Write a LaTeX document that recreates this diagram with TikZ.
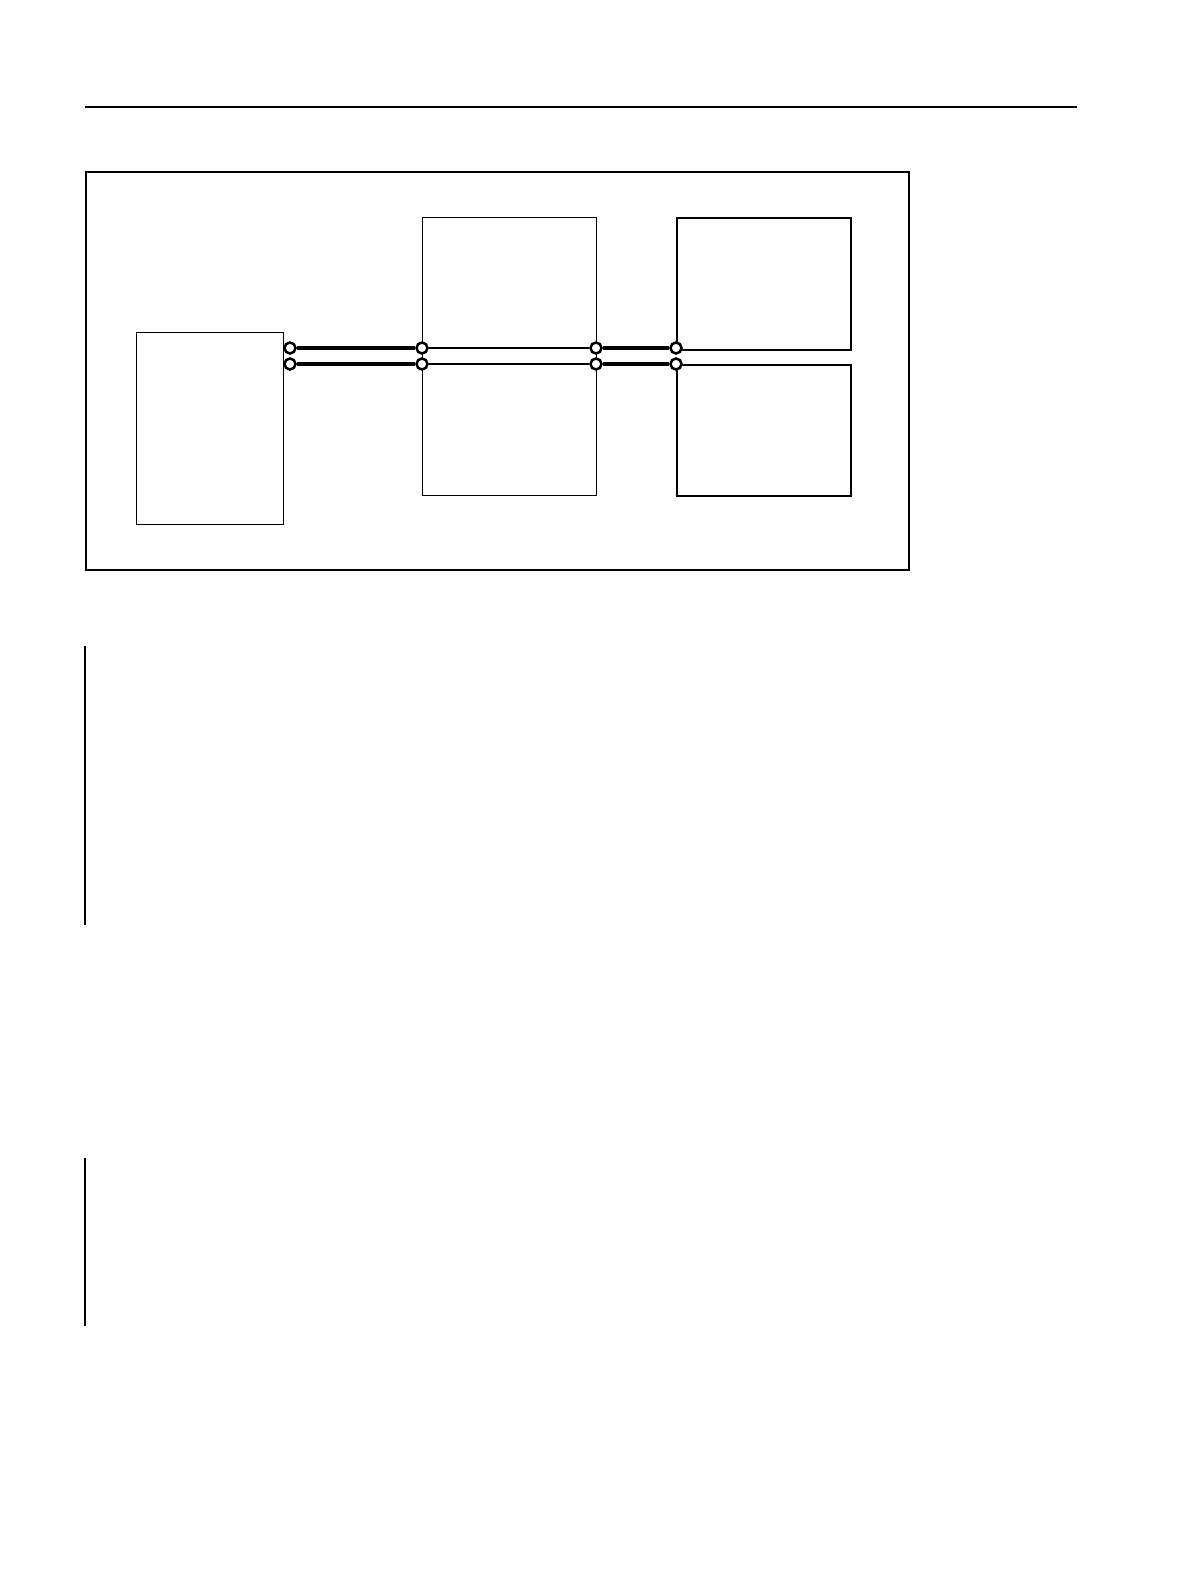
\documentclass[tikz,border=0pt]{standalone}
\usepackage{tikz}
\usetikzlibrary{positioning}

\begin{document}
\begin{tikzpicture}[
    x=1pt, y=-1pt,
    block/.style={rectangle, draw, line width=1.1pt, inner sep=0pt, anchor=north west},
    heavyblock/.style={block, line width=2pt},
    frame/.style={block, line width=1.5pt},
    port/.style={circle, draw, line width=2.5pt, fill=white, inner sep=0pt, minimum size=11pt},
    wire/.style={line width=3.4pt},
    thinwire/.style={line width=1.2pt},
    rule/.style={line width=1.3pt}
]
    \useasboundingbox (0,0) rectangle (1190,1584);

    % page rule and margin bars
    \draw[rule] (85,107) -- (1077,107);
    \draw[rule] (85,646) -- (85,925);
    \draw[rule] (85,1158) -- (85,1326);

    % outer frame
    \node[frame, minimum width=823pt, minimum height=398pt] (frame) at (85,171) {};

    % blocks
    \node[block, minimum width=147pt, minimum height=192pt] (lbox) at (136,332) {};
    \node[block, minimum width=174pt, minimum height=278pt] (mbox) at (422,217) {};
    \node[heavyblock, minimum width=174pt, minimum height=132pt] (rtop) at (676,217) {};
    \node[heavyblock, minimum width=174pt, minimum height=131pt] (rbot) at (676,364) {};

    % ports
    \node[port] (la) at (290,348) {};
    \node[port] (lb) at (290,364) {};
    \node[port] (ma) at (422,348) {};
    \node[port] (mb) at (422,364) {};
    \node[port] (na) at (596,348) {};
    \node[port] (nb) at (596,364) {};
    \node[port] (ra) at (676,348) {};
    \node[port] (rb) at (676,364) {};

    % connections
    \draw[wire] (la) -- (ma);
    \draw[wire] (lb) -- (mb);
    \draw[thinwire] (ma) -- (na);
    \draw[thinwire] (mb) -- (nb);
    \draw[wire] (na) -- (ra);
    \draw[wire] (nb) -- (rb);

\end{tikzpicture}
\end{document}
